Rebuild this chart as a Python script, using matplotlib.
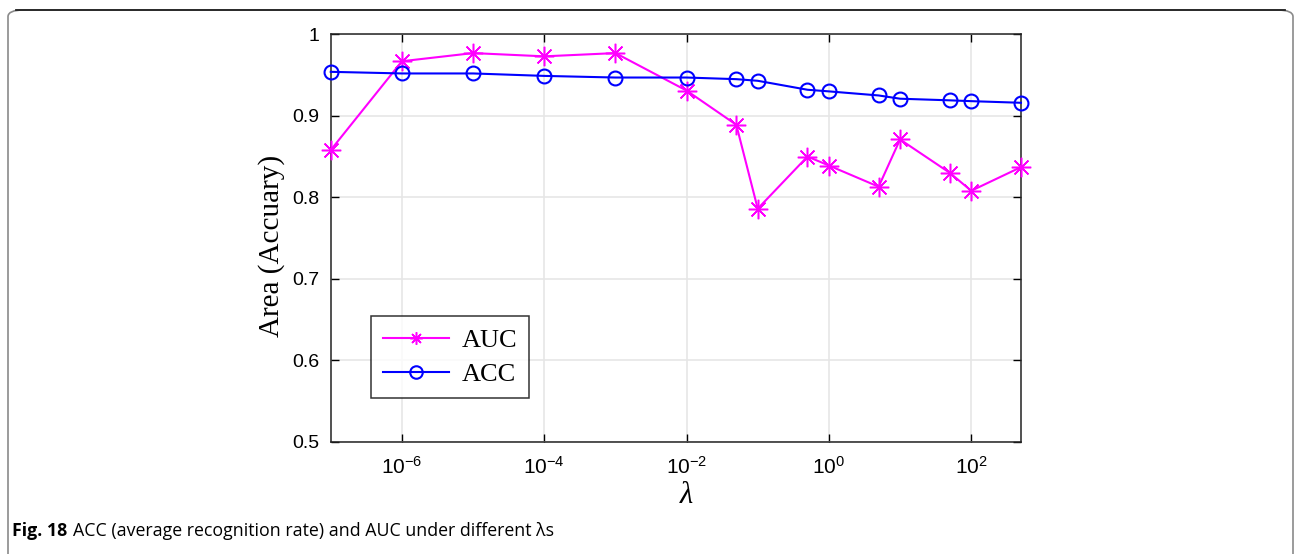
import numpy as np
import matplotlib.pyplot as plt
from matplotlib.patches import FancyBboxPatch
from matplotlib.lines import Line2D
from matplotlib.ticker import FixedLocator, FuncFormatter, NullLocator

# data
lam = [1e-7, 1e-6, 1e-5, 1e-4, 1e-3, 1e-2, 5e-2, 1e-1, 5e-1, 1, 5, 10, 50, 100, 500]
auc = [0.858, 0.967, 0.977, 0.973, 0.977, 0.931, 0.889, 0.786, 0.850, 0.839,
       0.813, 0.871, 0.830, 0.808, 0.837]
acc = [0.954, 0.952, 0.952, 0.949, 0.947, 0.947, 0.945, 0.943, 0.932, 0.930,
       0.925, 0.921, 0.919, 0.918, 0.916]
xticks = [1e-6, 1e-4, 1e-2, 1e0, 1e2]
yticks = [0.5, 0.6, 0.7, 0.8, 0.9, 1.0]

plt.rcParams['mathtext.fontset'] = 'custom'
plt.rcParams['mathtext.rm'] = 'Liberation Sans'
plt.rcParams['mathtext.default'] = 'regular'

fig = plt.figure(figsize=(12.94, 5.54), dpi=100)
ax = fig.add_axes([0.2556, 0.2027, 0.5334, 0.7353])

asterisk = (8, 2, 0)
ax.plot(lam, auc, color='#FF00FF', lw=1.5, marker=asterisk, ms=14, mew=1.1,
        label='AUC', clip_on=False, zorder=3)
ax.plot(lam, acc, color='#0000FF', lw=1.5, marker='o', ms=10, mfc='none', mew=1.5,
        label='ACC', clip_on=False, zorder=3)

ax.set_xscale('log')
ax.set_xlim(1e-7, 500)
ax.set_ylim(0.5, 1.0)
ax.xaxis.set_major_locator(FixedLocator(xticks))
ax.xaxis.set_minor_locator(NullLocator())
ax.xaxis.set_major_formatter(FuncFormatter(lambda v, p: r'$10^{%d}$' % round(np.log10(v))))
ax.yaxis.set_major_locator(FixedLocator(yticks))
ax.yaxis.set_major_formatter(FuncFormatter(lambda v, p: '1' if v == 1 else '%.1f' % v))

ax.grid(True, color='#e6e6e6', lw=1.2)
ax.set_axisbelow(True)
ax.tick_params(direction='in', top=True, right=True, length=6, width=1, pad=9)
ax.tick_params(axis='x', labelsize=15, pad=10)
ax.tick_params(axis='y', labelsize=14, pad=8)
for t in ax.get_xticklabels() + ax.get_yticklabels():
    t.set_fontfamily('Liberation Sans')
for s in ax.spines.values():
    s.set_linewidth(1.1)
    s.set_color('#222222')

ax.set_ylabel('Area (Accuary)', family='Liberation Serif', fontsize=21)
ax.yaxis.set_label_coords(-0.066, 0.48)
ax.set_xlabel('λ', family='Liberation Serif', style='italic', fontsize=22)
ax.xaxis.set_label_coords(0.515, -0.097)

leg = ax.legend(loc='lower left', bbox_to_anchor=(0.058, 0.108), fancybox=False,
                prop={'family': 'Liberation Serif', 'size': 19}, handlelength=2.5,
                borderpad=0.45, labelspacing=0.4, handletextpad=0.5, borderaxespad=0)
leg.get_frame().set_edgecolor('black')
leg.get_frame().set_linewidth(1.1)
for h in leg.legend_handles:
    h.set_markersize(9)

# surrounding figure frame
frame = FancyBboxPatch((8 / 1294, -0.1), 1285 / 1294, 0.1 + 544 / 554,
                       boxstyle='round,pad=0,rounding_size=0.012',
                       transform=fig.transFigure, fill=False,
                       edgecolor='#8a8a8a', lw=1.2, clip_on=False)
fig.patches.append(frame)
fig.add_artist(Line2D([16 / 1294, 1285 / 1294], [544 / 554, 544 / 554],
                      transform=fig.transFigure, color='#222222', lw=1.3))

fig.text(12 / 1294, 1 - 531 / 554, 'Fig. 18', family='Open Sans', weight='bold',
         fontsize=12.8, va='center', ha='left')
fig.text(73 / 1294, 1 - 531 / 554, 'ACC (average recognition rate) and AUC under different λs',
         family='Open Sans', fontsize=12.8, va='center', ha='left')

fig.savefig('out.png', dpi=100)
